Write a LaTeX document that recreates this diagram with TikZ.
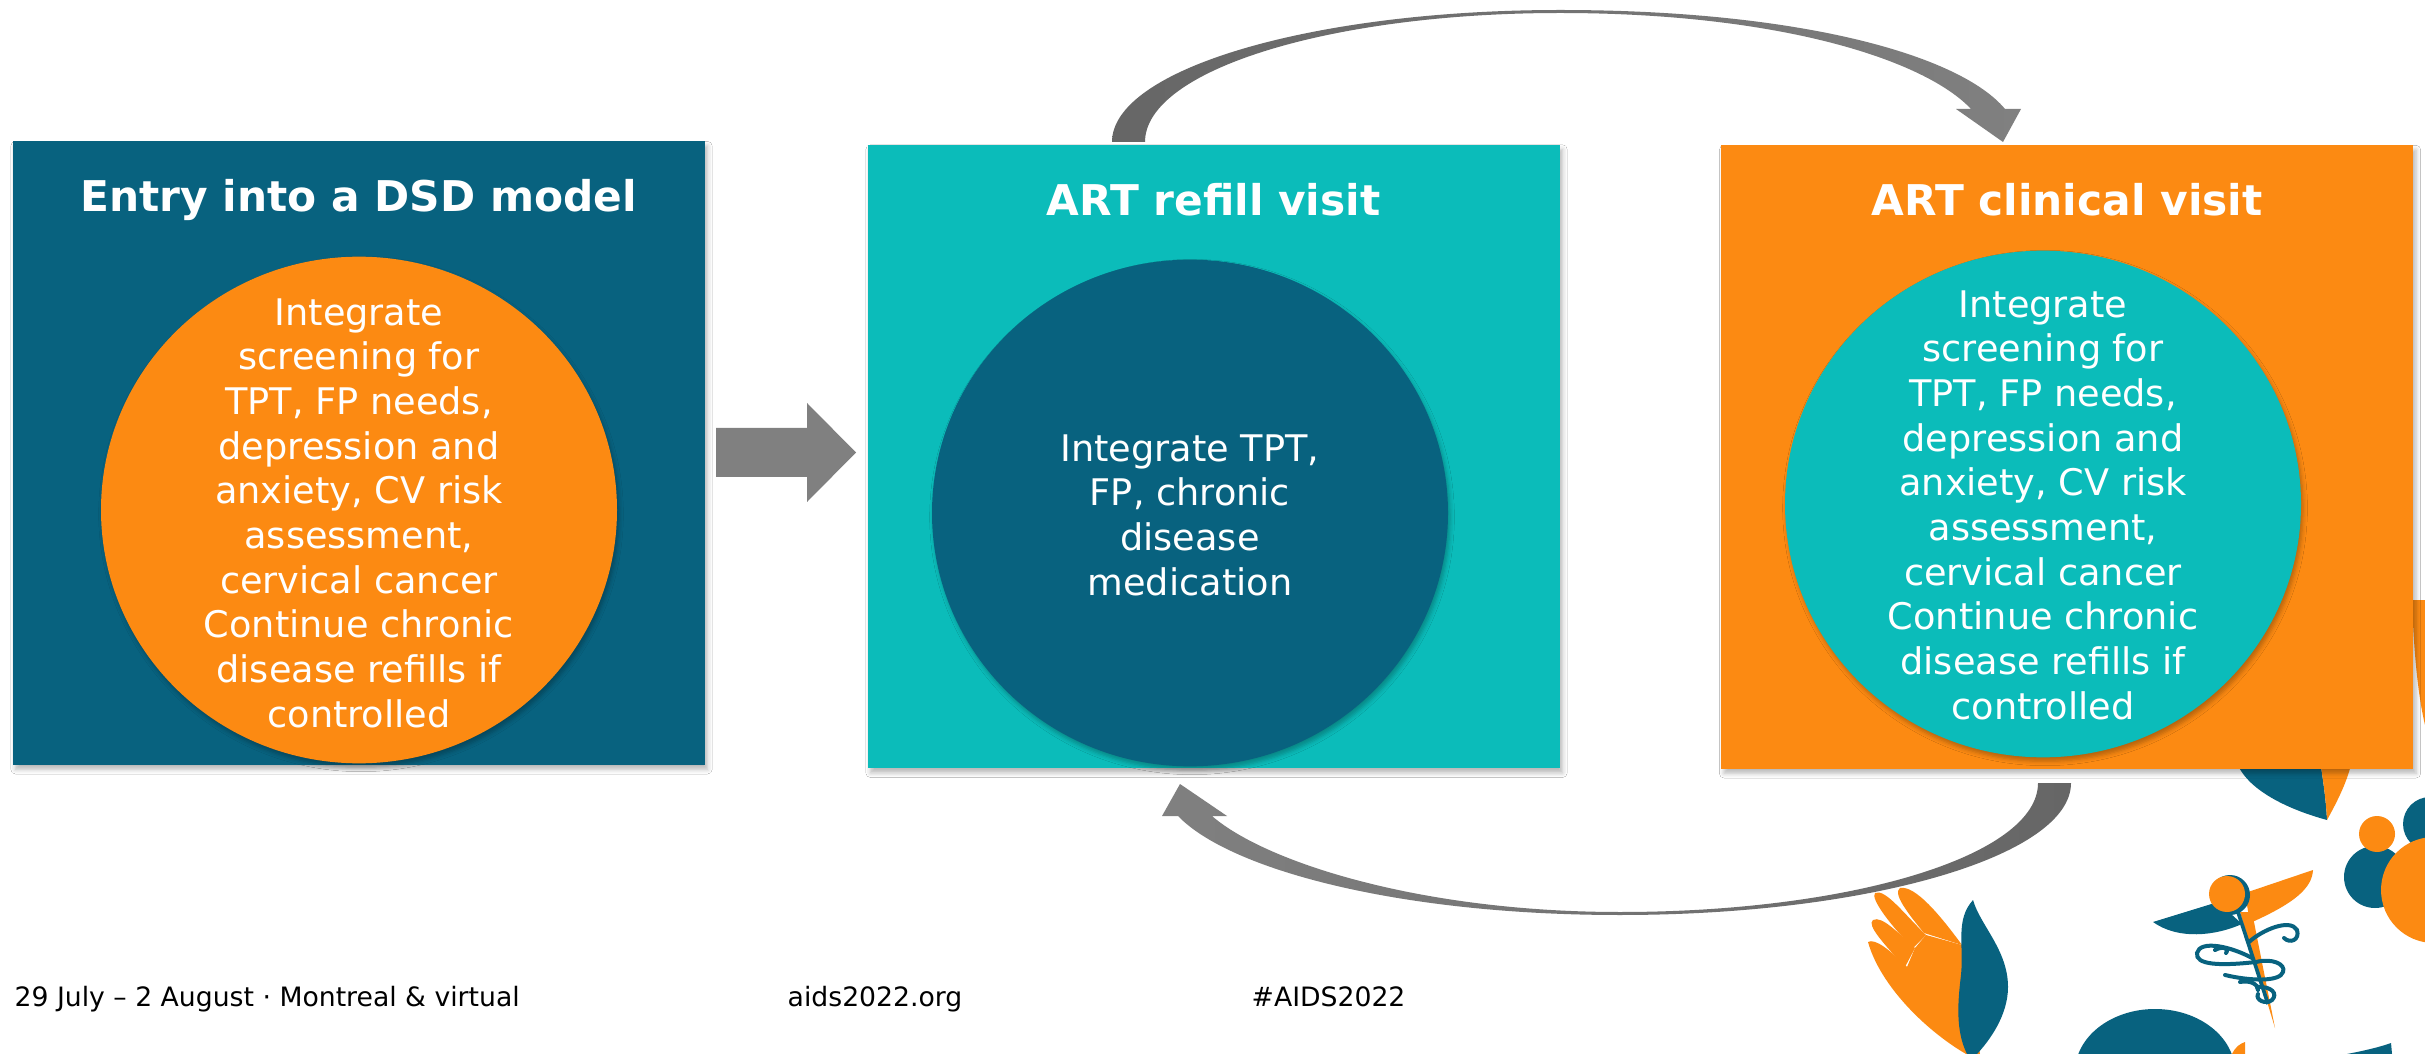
\documentclass[tikz,border=0pt]{standalone}
\usepackage{fontspec}
\setmainfont{DejaVu Sans}
\usetikzlibrary{shapes.geometric,shadows.blur}
\definecolor{dsdblue}{RGB}{8,98,127}
\definecolor{aidsteal}{RGB}{11,188,186}
\definecolor{aidsorange}{RGB}{252,138,18}
\definecolor{arrowgray}{RGB}{128,128,128}
\definecolor{arrowdark}{RGB}{102,102,102}
\tikzset{
  panel/.style={rectangle, inner sep=0pt, outer sep=0pt,
    minimum width=207.6pt, minimum height=187pt,
    blur shadow={shadow xshift=0.9pt, shadow yshift=-1.4pt, shadow blur radius=1.4pt, shadow opacity=28}},
  disc/.style={ellipse, inner sep=0pt, outer sep=0pt,
    minimum width=154.8pt, minimum height=152pt,
    blur shadow={shadow xshift=0.6pt, shadow yshift=-1.2pt, shadow blur radius=1.3pt, shadow opacity=28}},
  heading/.style={text=white, inner sep=0pt, font=\fontsize{12.7}{15}\selectfont\bfseries},
  body/.style={text=white, align=center, inner sep=0pt, font=\fontsize{11}{13.4}\selectfont},
  foot/.style={text=black, inner sep=0pt, anchor=base west, font=\fontsize{8}{9.6}\selectfont},
  deco blue/.style={fill=dsdblue},
  deco orange/.style={fill=aidsorange},
  snake/.style={draw=dsdblue, line width=1.2pt, line cap=round},
}
\begin{document}
\begin{tikzpicture}[x=0.3pt, y=-0.3pt]
\fill[white] (0,0) rectangle (2425,1054);
\useasboundingbox (0,0) rectangle (2425,1054);

% ---------- background ornaments (bottom right) ----------
% leaf to the right of the clinical panel
\fill[deco orange] (2412,600) .. controls (2414,660) and (2419,700) .. (2425,725) -- (2425,600) -- cycle;
% leaf pair emerging below the clinical panel
\fill[deco blue] (2236,760) .. controls (2245,790) and (2290,810) .. (2327,820)
  .. controls (2326,800) and (2323,780) .. (2320,760) -- cycle;
\fill[deco orange] (2320,760) .. controls (2323,780) and (2326,800) .. (2327,820)
  .. controls (2338,800) and (2348,780) .. (2352,760) -- cycle;
% people circles
\fill[deco blue] (2430,824) circle[radius=27];
\fill[deco blue] (2375,877) circle[radius=31];
\fill[deco orange] (2377,834) circle[radius=18];
\fill[deco orange] (2434,890) circle[radius=53];
% hand: four fingers and the palm
\fill[deco orange] (1900,888) .. controls (1893,893) and (1905,910) .. (1924,933)
  -- (1962,945) .. controls (1940,915) and (1915,885) .. (1900,888) -- cycle;
\fill[deco orange] (1875,893) .. controls (1870,898) and (1890,925) .. (1913,948)
  -- (1926,935) .. controls (1905,915) and (1885,888) .. (1875,893) -- cycle;
\fill[deco orange] (1873,920) .. controls (1866,925) and (1885,945) .. (1905,967)
  -- (1915,948) .. controls (1900,935) and (1882,915) .. (1873,920) -- cycle;
\fill[deco orange] (1868,942) .. controls (1880,985) and (1925,1030) .. (1966,1054)
  -- (1980,1054) -- (1962,945) -- (1926,935) -- (1915,948) -- (1907,967)
  .. controls (1890,950) and (1875,938) .. (1868,942) -- cycle;
% flame
\fill[deco blue] (1973,900) .. controls (1980,925) and (2008,950) .. (2008,987)
  .. controls (2008,1015) and (1990,1040) .. (1977,1054) -- (1967,1054)
  .. controls (1955,1030) and (1958,1000) .. (1961,975)
  .. controls (1964,945) and (1955,920) .. (1973,900) -- cycle;
% caduceus
\fill[deco blue] (2153,922) -- (2218,902) -- (2242,924)
  .. controls (2215,936) and (2178,940) .. (2153,922) -- cycle;
\fill[deco orange] (2245,893) -- (2313,870)
  .. controls (2312,888) and (2295,903) .. (2250,923) -- cycle;
\fill[deco orange] (2240,912) -- (2252,912) -- (2275,1028) -- cycle;
\draw[dsdblue, line width=1.1pt] (2238,912) -- (2268,1004);
\fill[deco blue] (2230,895) circle[radius=20];
\fill[deco orange] (2227,894) circle[radius=18];
\draw[snake] (2249,942) .. controls (2262,930) and (2290,918) .. (2297,930)
  .. controls (2300,940) and (2290,944) .. (2284,938);
\draw[snake] (2252,958) .. controls (2230,946) and (2200,940) .. (2197,953)
  .. controls (2195,965) and (2220,966) .. (2256,962);
\draw[snake] (2215,950) .. controls (2222,946) and (2230,948) .. (2226,953);
\draw[snake] (2256,962) .. controls (2272,958) and (2286,964) .. (2283,972)
  .. controls (2280,982) and (2250,981) .. (2225,975);
\draw[snake] (2257,987) .. controls (2272,986) and (2278,994) .. (2272,1000)
  .. controls (2266,1005) and (2255,1000) .. (2258,994);
\draw[snake] (2240,982) .. controls (2250,980) and (2258,984) .. (2258,990);
% domes along the lower edge
\fill[deco blue] (2155,1072) ellipse[x radius=80, y radius=63];
\fill[deco orange] (2232,1054) .. controls (2236,1046) and (2240,1044) .. (2245,1042) -- (2245,1054) -- cycle;
\fill[deco blue] (2347,1054) .. controls (2368,1050) and (2383,1046) .. (2391,1043) -- (2392,1054) -- cycle;

% ---------- panels ----------
\node[panel, fill=dsdblue]    (entry)    at (358.5,453) {};
\node[panel, fill=aidsteal]   (refill)   at (1213.5,456.5) {};
\node[panel, fill=aidsorange] (clinical) at (2067,457) {};

\node[heading] (entryT)    at (358.5,200) {Entry into a DSD model};
\node[heading] (refillT)   at (1213.5,200) {ART refill visit};
\node[heading] (clinicalT) at (2067,200) {ART clinical visit};

\node[disc, fill=aidsorange] (entryC)    at (359,510) {};
\node[disc, fill=dsdblue]    (refillC)   at (1190,513) {};
\node[disc, fill=aidsteal]   (clinicalC) at (2043,504) {};

\node[body] (entryB) at (359,513)
  {Integrate\\screening for\\TPT, FP needs,\\depression and\\anxiety, CV risk\\assessment,\\cervical cancer\\Continue chronic\\disease refills if\\controlled};
\node[body] (refillB) at (1190,515)
  {Integrate TPT,\\FP, chronic\\disease\\medication};
\node[body] (clinicalB) at (2043,505)
  {Integrate\\screening for\\TPT, FP needs,\\depression and\\anxiety, CV risk\\assessment,\\cervical cancer\\Continue chronic\\disease refills if\\controlled};

% ---------- block arrows ----------
% entry -> refill
\fill[arrowgray] (716,428) -- (807,428) -- (807,403) -- (856,452.5) -- (807,502) -- (807,477) -- (716,477) -- cycle;
% refill -> clinical (over the top)
\shade[left color=arrowdark, right color=arrowgray]
  (1112,142) .. controls (1112,69) and (1313,10) .. (1560,10)
  .. controls (1800,10) and (1960,55) .. (2005,109)
  -- (2021,109) -- (2003,142) -- (1956,109) -- (1971,109)
  .. controls (1925,60) and (1780,13) .. (1560,13)
  .. controls (1331,13) and (1145,70) .. (1145,142) -- cycle;
% clinical -> refill (underneath)
\shade[left color=arrowgray, right color=arrowdark]
  (2071,783) .. controls (2071,856) and (1869,915) .. (1620,915)
  .. controls (1400,915) and (1230,870) .. (1178,816)
  -- (1162,816) -- (1180,784) -- (1227,816) -- (1212,816)
  .. controls (1265,862) and (1420,912) .. (1620,912)
  .. controls (1850,912) and (2038,856) .. (2038,783) -- cycle;

% ---------- footer ----------
\node[foot] (date) at (14,1006) {29 July – 2 August · Montreal \& virtual};
\node[foot] (site) at (787,1006) {aids2022.org};
\node[foot] (tag)  at (1251,1006) {\#AIDS2022};
\end{tikzpicture}
\end{document}
